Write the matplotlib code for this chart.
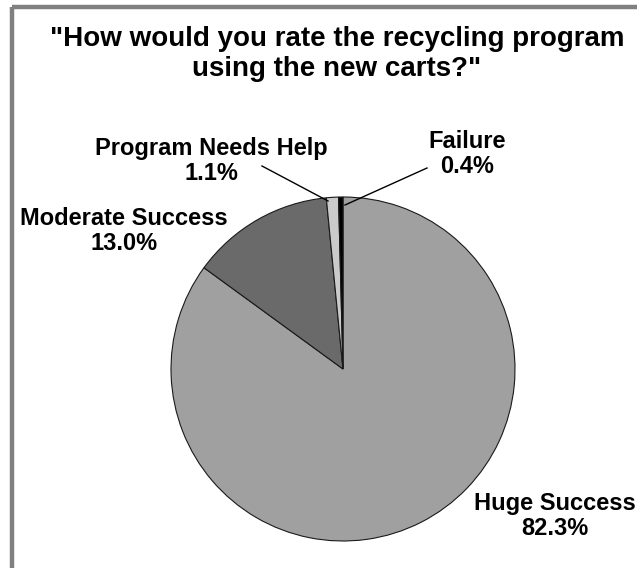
import matplotlib.pyplot as plt
from matplotlib.patches import Rectangle

plt.rcParams['font.family'] = ['Liberation Sans', 'DejaVu Sans']

# Survey responses
labels = ['Huge Success', 'Moderate Success', 'Program Needs Help', 'Failure']
shares = [82.3, 13.0, 1.1, 0.4]
colors = ['#a0a0a0', '#6a6a6a', '#cacaca', '#000000']

W, H = 637, 568
fig = plt.figure(figsize=(W / 100, H / 100), dpi=100)
fig.patch.set_facecolor('white')

# axes in pixel units, y pointing down
ax = fig.add_axes([0, 0, 1, 1])

cx, cy, r = 343, 369, 172
wedges, _ = ax.pie(shares, colors=colors, startangle=90, counterclock=False,
                   center=(cx, cy), radius=r, frame=True,
                   wedgeprops=dict(edgecolor='#1a1a1a', linewidth=0.8))
ax.set_xlim(0, W)
ax.set_ylim(H, 0)
ax.set_aspect('equal')
ax.axis('off')
# pie() flips angles when y is inverted, so mirror back
for w in wedges:
    t1, t2 = w.theta1, w.theta2
    w.set_theta1(-t2)
    w.set_theta2(-t1)

# frame around the chart
ax.add_patch(Rectangle((11.5, 6.5), W + 20, H + 20, fill=False,
                       edgecolor='#808080', linewidth=3.2))

ax.text(337, 54, '"How would you rate the recycling program\nusing the new carts?"',
        ha='center', va='center', fontsize=20, fontweight='bold',
        linespacing=1.25)

label_pos = [(555, 516), (124, 231), (211, 161), (467, 154)]
for name, val, (lx, ly) in zip(labels, shares, label_pos):
    ax.text(lx, ly, f'{name}\n{val:.1f}%', ha='center', va='center',
            fontsize=17, fontweight='bold', linespacing=1.15)

# leader lines
ax.plot([262, 328], [166, 201], color='black', linewidth=1)
ax.plot([427, 345], [168, 205], color='black', linewidth=1)

fig.savefig('out.png', dpi=100)
